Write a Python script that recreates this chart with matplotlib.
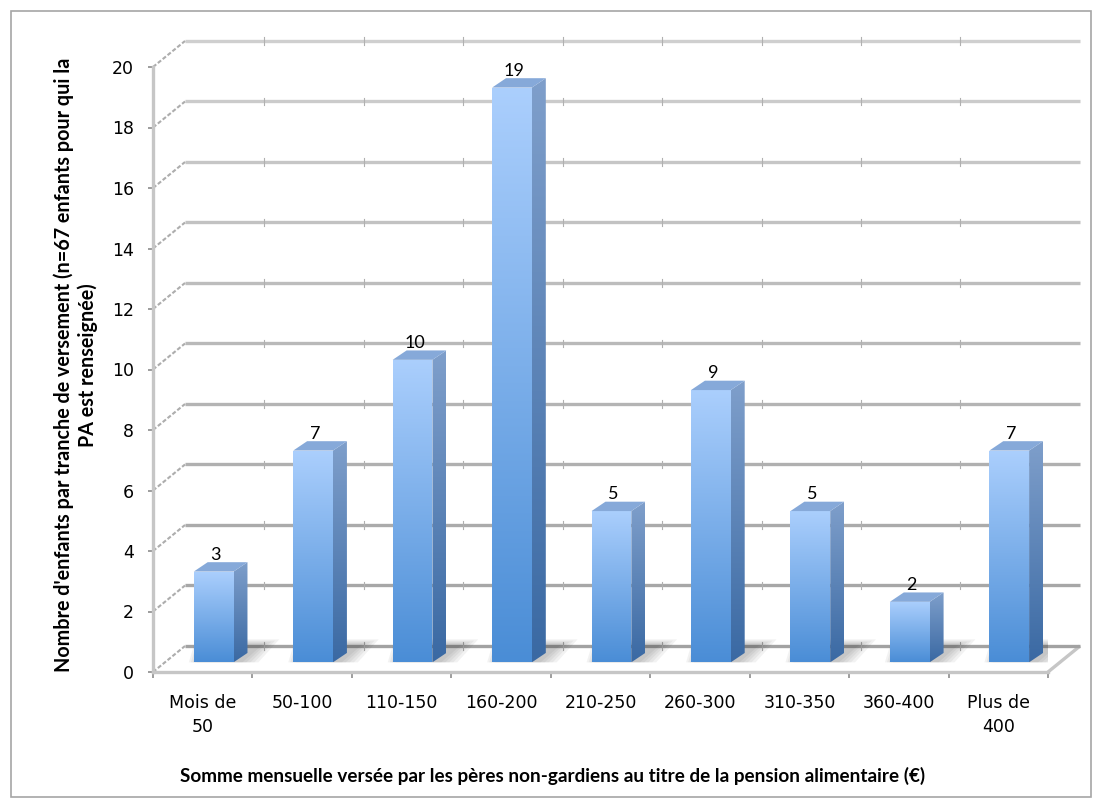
import numpy as np
import matplotlib.pyplot as plt
from matplotlib.patches import Polygon, Rectangle
from matplotlib.colors import LinearSegmentedColormap, to_rgb

plt.rcParams['font.family'] = ['DejaVu Sans']

categories = ["Mois de\n50", "50-100", "110-150", "160-200", "210-250",
              "260-300", "310-350", "360-400", "Plus de\n400"]
counts = [3, 7, 10, 19, 5, 9, 5, 2, 7]
yticks = list(range(0, 21, 2))

xlabel = ("Somme mensuelle versée par les pères non-gardiens "
          "au titre de la pension alimentaire (€)")
ylabel = ("Nombre d'enfants par tranche de versement (n=67 enfants pour qui la\n"
          "PA est renseignée)")

# pseudo-3D geometry in data units (x: one category, y: one child)
DEPTH = (0.322, 0.86)      # front plane -> back wall
BAR_FRONT = (0.11, 0.32)   # columns stand a bit behind the front edge
BAR_SIDE = (0.14, 0.31)    # column thickness
BAR_W = 0.40

FRONT_TOP, FRONT_BOT = '#abcffd', '#4a8dd6'
SIDE_TOP, SIDE_BOT = '#7f9fcb', '#3a69a3'
TOP_FACE = '#86a9d9'
GRID = '#c6c6c6'
GRID_HI, GRID_LO = '#cfcfcf', '#a2a2a2'


def gradient_patch(ax, verts, top, bottom, z):
    poly = Polygon(verts, closed=True, facecolor='none', edgecolor='none', zorder=z)
    ax.add_patch(poly)
    cmap = LinearSegmentedColormap.from_list('shade', [bottom, top])
    xs = [p[0] for p in verts]
    ys = [p[1] for p in verts]
    grad = np.linspace(0, 1, 256).reshape(-1, 1)
    im = ax.imshow(grad, cmap=cmap, origin='lower', aspect='auto', zorder=z,
                   extent=(min(xs), max(xs), min(ys), max(ys)), interpolation='bilinear')
    im.set_clip_path(poly)


def mix(c1, c2, t):
    a, b = np.array(to_rgb(c1)), np.array(to_rgb(c2))
    return tuple(a + (b - a) * t)


fig = plt.figure(figsize=(11.01, 8.08), dpi=100)
ax = fig.add_axes([153 / 1101, (808 - 672) / 808, 895 / 1101, 605 / 808])

x_lo, x_hi = -0.5, len(categories) - 0.5
dx, dy = DEPTH

# floor
floor = Polygon([(x_lo, 0), (x_hi, 0), (x_hi + dx, dy), (x_lo + dx, dy)],
                closed=True, facecolor='white', edgecolor='none', zorder=0.5, clip_on=False)
ax.add_patch(floor)
ax.plot([x_hi, x_hi + dx], [0, dy], color=GRID, lw=2.4, clip_on=False, zorder=1,
        solid_capstyle='butt')

# back wall gridlines (lighter towards the top) and the slanted side-wall lines
for v in yticks:
    c = mix(GRID_LO, GRID_HI, v / 20)
    ax.plot([x_lo + dx, x_hi + dx], [v + dy, v + dy], color=c, lw=2.4,
            clip_on=False, zorder=1, solid_capstyle='butt')
    ax.plot([x_lo, x_lo + dx], [v, v + dy], color='#adadad', lw=1.5,
            ls=(0, (2, 1)), clip_on=False, zorder=1)
    # small marks where the category boundaries meet the gridlines
    for b in np.arange(x_lo + 1, x_hi, 1.0):
        ax.plot([b + 0.12, b + 0.12], [v + dy - 0.12, v + dy + 0.12], color='#b0b0b0',
                lw=0.8, zorder=1.2, clip_on=False)

fx, fy = BAR_FRONT
sx, sy = BAR_SIDE
for i, v in enumerate(counts):
    xl = i + fx - BAR_W / 2
    xr = xl + BAR_W
    yb = fy
    yt = yb + v

    # soft shadow on the floor, behind and right of the column
    for k in range(5):
        g = 0.04 * (k + 1)
        shadow = Polygon([(xl + 0.05 - g / 2, yb), (xr + 0.05 + g, yb),
                          (xr + sx + 0.12 + g, yb + sy + 0.25 + g),
                          (xl + sx - 0.02 - g / 2, yb + sy + 0.25 + g)],
                         closed=True, facecolor='#303030', alpha=0.06,
                         edgecolor='none', zorder=1.5)
        ax.add_patch(shadow)

    gradient_patch(ax, [(xl, yb), (xr, yb), (xr, yt), (xl, yt)], FRONT_TOP, FRONT_BOT, 3)
    gradient_patch(ax, [(xr, yb), (xr + sx, yb + sy), (xr + sx, yt + sy), (xr, yt)],
                   SIDE_TOP, SIDE_BOT, 3)
    top = Polygon([(xl, yt), (xr, yt), (xr + sx, yt + sy), (xl + sx, yt + sy)],
                  closed=True, facecolor=TOP_FACE, edgecolor='none', zorder=3)
    ax.add_patch(top)

    ax.annotate(str(v), ((xl + xr) / 2 + 0.02, yt + sy), xytext=(0, -0.5),
                textcoords='offset points', ha='center', va='bottom',
                fontsize=13, family='Lato', zorder=4, annotation_clip=False)

ax.set_xlim(x_lo, x_hi)
ax.set_ylim(0, 20)
ax.set_facecolor('none')
for side in ('top', 'right'):
    ax.spines[side].set_visible(False)
for side in ('left', 'bottom'):
    ax.spines[side].set_color(GRID)
    ax.spines[side].set_linewidth(2.4)
    ax.spines[side].set_zorder(2)

ax.set_yticks(yticks)
ax.set_xticks(range(len(categories)))
ax.set_xticklabels(categories, fontsize=12.5, linespacing=1.4)
ax.set_xticks(np.arange(x_lo, x_hi + 0.01, 1.0), minor=True)
ax.tick_params(axis='y', length=3.6, width=1.2, color='#8c8c8c', pad=10, labelsize=12.5)
ax.tick_params(axis='x', which='major', length=0, pad=16)
ax.tick_params(axis='x', which='minor', length=4.3, width=1.2, color='#8c8c8c')

fig.text(553 / 1101, 1 - 776 / 808, xlabel, ha='center', va='center',
         fontsize=13.6, fontweight='bold', family='Lato')
fig.text(76 / 1101, 1 - 365 / 808, ylabel, ha='center', va='center', rotation=90,
         fontsize=14.2, fontweight='bold', family='Lato', multialignment='center',
         linespacing=1.2)

fig.add_artist(Rectangle((11 / 1101, 11 / 808), 1080 / 1101, 786 / 808,
                         transform=fig.transFigure, fill=False,
                         edgecolor='#a6a6a6', lw=1.2))

fig.savefig('out.png', dpi=100)
